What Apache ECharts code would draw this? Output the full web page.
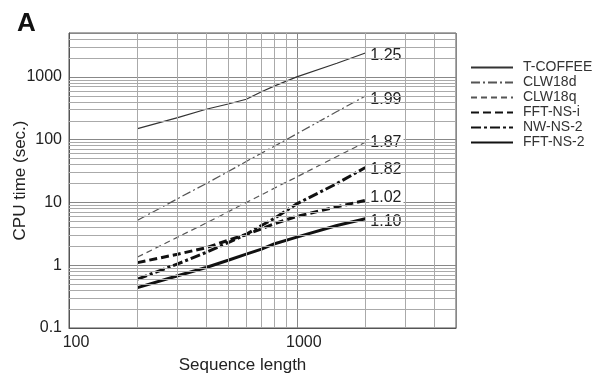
<!DOCTYPE html>
<html>
<head>
<meta charset="utf-8">
<script src="https://cdn.jsdelivr.net/npm/echarts@6/dist/echarts.min.js"></script>
<style>
  html, body { margin: 0; padding: 0; background: #fff; }
  #chart { width: 601px; height: 377px; }
</style>
</head>
<body>
<div id="chart"></div>
<script>
// sequence lengths (x) and CPU times in seconds (y)
const lengths = [200, 300, 400, 500, 600, 700, 800, 1000, 1500, 2000];
const tCoffee = [150, 225, 305, 370, 440, 580, 720, 1000, 1650, 2400];
const clw18d = [5.2, 11.5, 20, 31, 45, 61, 79, 124, 280, 495];
const clw18q = [1.35, 2.8, 4.7, 7.1, 10, 13.2, 17, 25.5, 54, 91];
const fftNsI = [1.1, 1.5, 1.9, 2.5, 3.1, 3.8, 4.6, 6.0, 8.5, 10.8];
const nwNs2 = [0.6, 1.05, 1.6, 2.3, 3.1, 4.3, 5.6, 9.5, 20, 36];
const fftNs2 = [0.44, 0.68, 0.92, 1.2, 1.5, 1.8, 2.2, 2.8, 4.3, 5.5];

const seriesNames = ["T-COFFEE", "CLW18d", "CLW18q", "FFT-NS-i", "NW-NS-2", "FFT-NS-2"];
// slope of each curve, printed at the line end
const slopes = ["1.25", "1.99", "1.87", "1.02", "1.82", "1.10"];

// minor grid values of the log paper
const xMinor = [200, 300, 400, 500, 600, 700, 800, 900, 2000, 3000, 4000];
const yMinor = [];
[0.1, 1, 10, 100, 1000].forEach(d => {
  for (let k = 2; k <= 9; k++) {
    if (d * k < 5000) yMinor.push(+(d * k).toPrecision(2));
  }
});

const font = "'Liberation Sans', Arial, sans-serif";
const ink = "#222";

const pairs = arr => lengths.map((x, i) => [x, arr[i]]);

const styles = [
  { width: 1.2, type: "solid", color: "#333" },
  { width: 1.2, type: [9, 3, 2, 3], color: "#555" },
  { width: 1.2, type: [6, 4], color: "#555" },
  { width: 3, type: [8, 4], color: "#111" },
  { width: 3, type: [10, 3, 3, 3], color: "#111" },
  { width: 3, type: "solid", color: "#111" }
];
// label nudges so numbers sit like the original
const labelOffsets = [[0, 3], [0, 4], [0, 0], [0, -3], [0, 2], [0, 3]];

const dataSets = [tCoffee, clw18d, clw18q, fftNsI, nwNs2, fftNs2];

const lineSeries = dataSets.map((arr, i) => ({
  name: seriesNames[i],
  type: "line",
  data: pairs(arr),
  symbol: "none",
  z: 3,
  lineStyle: styles[i],
  itemStyle: { color: styles[i].color },
  endLabel: {
    show: true,
    formatter: slopes[i],
    distance: 4,
    offset: labelOffsets[i],
    fontFamily: font,
    fontSize: 16,
    color: ink,
    backgroundColor: "#fff",
    padding: [1, 2, 1, 1]
  }
}));

const gridSeries = {
  name: "grid",
  type: "line",
  data: [],
  z: 1,
  silent: true,
  markLine: {
    silent: true,
    symbol: "none",
    animation: false,
    label: { show: false },
    lineStyle: { color: "#aaa", width: 1, type: "solid" },
    data: xMinor.map(v => ({ xAxis: v })).concat(yMinor.map(v => ({ yAxis: v })))
  }
};

const plainNum = v => String(+v.toPrecision(3));

const chart = echarts.init(document.getElementById("chart"));
chart.setOption({
  animation: false,
  backgroundColor: "#fff",
  title: {
    text: "A",
    left: 12,
    top: 6,
    textStyle: { fontFamily: font, fontSize: 26, fontWeight: "bold", color: "#111" }
  },
  grid: {
    left: 69, top: 33, right: 145, bottom: 49,
    outerBoundsMode: "none",
    containLabel: false,
    show: true, borderColor: "#555", borderWidth: 1
  },
  legend: {
    data: seriesNames,
    orient: "vertical",
    left: 465,
    top: 55,
    itemWidth: 42,
    itemHeight: 10,
    itemGap: 0,
    itemStyle: { opacity: 0 },
    textStyle: { fontFamily: font, fontSize: 14, lineHeight: 15, color: "#333", padding: [0, 0, 0, 5] }
  },
  xAxis: {
    type: "log",
    logBase: 10,
    min: 100,
    max: 5000,
    name: "Sequence length",
    nameLocation: "middle",
    nameGap: 29,
    nameMoveOverlap: false,
    nameTextStyle: { fontFamily: font, fontSize: 17, color: ink, padding: [0, 40, 0, 0] },
    axisLine: { show: true, lineStyle: { color: "#555" } },
    axisTick: { show: false },
    axisLabel: {
      fontFamily: font, fontSize: 16, color: ink, margin: 7,
      showMaxLabel: false, padding: [0, 0, 0, 14],
      formatter: plainNum
    },
    splitLine: { show: true, lineStyle: { color: "#888", width: 1 } }
  },
  yAxis: {
    type: "log",
    logBase: 10,
    min: 0.1,
    max: 5000,
    name: "CPU time (sec.)",
    nameLocation: "middle",
    nameGap: 40,
    nameMoveOverlap: false,
    nameTextStyle: { fontFamily: font, fontSize: 17, color: ink },
    axisLine: { show: true, lineStyle: { color: "#555" } },
    axisTick: { show: false },
    axisLabel: {
      fontFamily: font, fontSize: 16, color: ink, margin: 7,
      showMaxLabel: false,
      formatter: plainNum
    },
    splitLine: { show: true, lineStyle: { color: "#888", width: 1 } }
  },
  series: [gridSeries].concat(lineSeries)
});
</script>
</body>
</html>
